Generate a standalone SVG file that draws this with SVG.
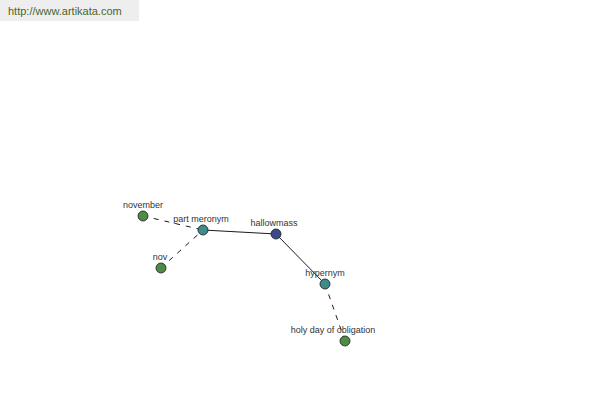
<svg xmlns="http://www.w3.org/2000/svg" width="600" height="400" viewBox="0 0 600 400">
<style>
text{font-family:"Liberation Sans",Arial,sans-serif;font-size:9px;fill:#333;text-anchor:middle}
.n{stroke:#1a1a1a;stroke-width:0.8}
.g{fill:#4e8c45}
.t{fill:#3d8b8b}
.b{fill:#3c4a8c}
.e{stroke:#000;stroke-width:0.9;fill:none}
.d{stroke-dasharray:5,6}
</style>
<rect x="0" y="0" width="139" height="21" fill="#eeeeee"/>
<text x="8" y="15" style="text-anchor:start;font-size:11px;fill:#4a6630">http://www.artikata.com</text>
<g id="connectors">
<line class="e d" x1="143" y1="216" x2="203" y2="230"/>
<line class="e d" x1="161" y1="268" x2="203" y2="230"/>
<line class="e" x1="203" y1="230" x2="276" y2="234"/>
<line class="e" x1="276" y1="234" x2="325" y2="284"/>
<line class="e d" x1="325" y1="284" x2="345" y2="341"/>
</g>
<g id="november"><circle class="n g" cx="143" cy="216" r="5"/><text x="143" y="208">november</text></g>
<g id="part-meronym"><circle class="n t" cx="203" cy="230" r="5"/><text x="201" y="222">part meronym</text></g>
<g id="hallowmass"><circle class="n b" cx="276" cy="234" r="5"/><text x="274" y="226">hallowmass</text></g>
<g id="nov"><circle class="n g" cx="161" cy="268" r="5"/><text x="160" y="260">nov</text></g>
<g id="hypernym"><circle class="n t" cx="325" cy="284" r="5"/><text x="325" y="276">hypernym</text></g>
<g id="holy-day-of-obligation"><circle class="n g" cx="345" cy="341" r="5"/><text x="333" y="333">holy day of obligation</text></g>
</svg>
